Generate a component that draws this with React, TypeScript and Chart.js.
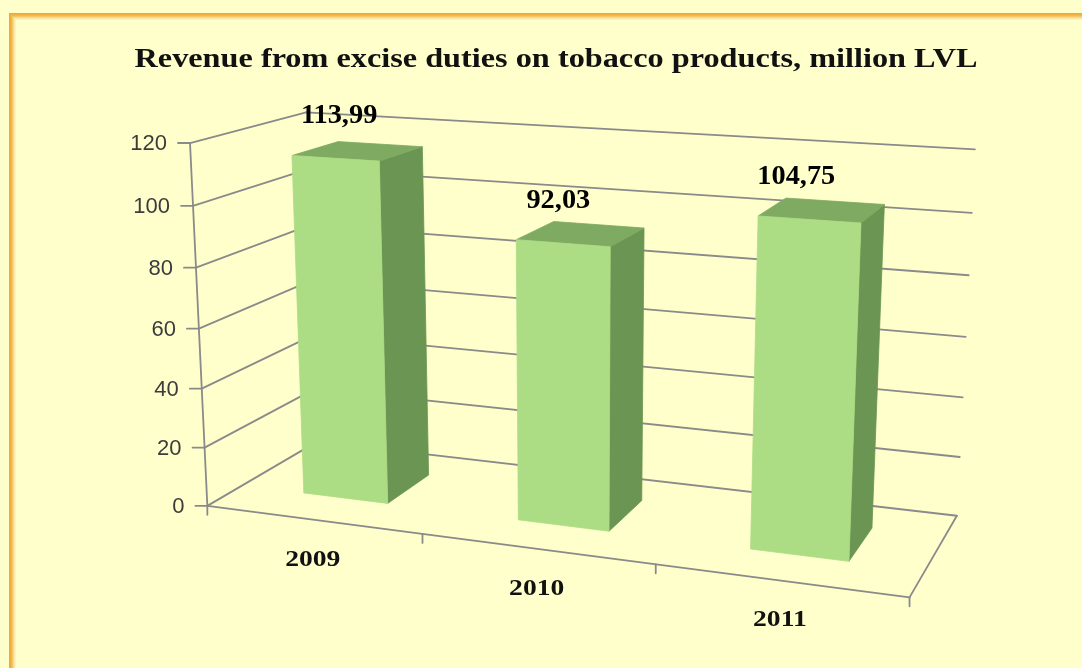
import React, { useEffect, useRef } from 'react';
import { Chart, registerables, BarController, BarElement } from 'chart.js';

Chart.register(...registerables);

// ---------------- data ----------------
const categories = ['2009', '2010', '2011'];
const revenue = [113.99, 92.03, 104.75];
const yTicks = [0, 20, 40, 60, 80, 100, 120];
const chartTitle = 'Revenue from excise duties on tobacco products, million LVL';

// ---------------- style / 3D frame ----------------
const W = 1082;
const H = 668;
const BG = '#FFFFCC';
const GRID = '#8a8a8a';
const FRONT = '#acdc84';
const TOP = '#7eaa61';
const SIDE = '#6b9552';
const BAR_FRONT_DEPTH = 0.3;
const BAR_BACK_DEPTH = 0.72;

// calibration of the perspective box: (u, v, w) -> screen (x, y)
// u: along categories 0..1, v: value fraction 0..1, w: depth 0 (front) .. 1 (back)
const CALIB: [number, number, number, number, number][] = [
  [0, 0, 0, 208, 507],
  [0, 1, 0, 190, 143],
  [0, 0.5, 0, 199, 328],
  [0, 0, 1, 317, 442],
  [0, 1, 1, 306, 112],
  [1, 0, 1, 957, 515],
  [1, 1, 1, 975, 150],
  [1, 0, 0, 910, 598],
  [1 / 3, 0, 0, 422, 533],
  [2 / 3, 0, 0, 655, 564],
];

function solveCamera(pts: [number, number, number, number, number][]) {
  const n = 11;
  const M: number[][] = Array.from({ length: n }, () => new Array(n + 1).fill(0));
  const addRow = (row: number[], rhs: number) => {
    for (let i = 0; i < n; i++) {
      for (let j = 0; j < n; j++) M[i][j] += row[i] * row[j];
      M[i][n] += row[i] * rhs;
    }
  };
  for (const [u, v, w, x, y] of pts) {
    addRow([u, v, w, 1, 0, 0, 0, 0, -x * u, -x * v, -x * w], x);
    addRow([0, 0, 0, 0, u, v, w, 1, -y * u, -y * v, -y * w], y);
  }
  for (let c = 0; c < n; c++) {
    let p = c;
    for (let r = c + 1; r < n; r++) if (Math.abs(M[r][c]) > Math.abs(M[p][c])) p = r;
    const t = M[c]; M[c] = M[p]; M[p] = t;
    for (let r = 0; r < n; r++) {
      if (r === c) continue;
      const f = M[r][c] / M[c][c];
      for (let k = c; k <= n; k++) M[r][k] -= f * M[c][k];
    }
  }
  return M.map((row, i) => row[n] / row[i]);
}

const CAM = solveCamera(CALIB);
function P(u: number, v: number, w: number): [number, number] {
  const a = CAM;
  const d = a[8] * u + a[9] * v + a[10] * w + 1;
  return [
    (a[0] * u + a[1] * v + a[2] * w + a[3]) / d,
    (a[4] * u + a[5] * v + a[6] * w + a[7]) / d,
  ];
}

let AREA = { left: 0, top: 0, right: W, bottom: H, width: W, height: H };

function poly(ctx: CanvasRenderingContext2D, pts: [number, number][], color: string) {
  ctx.beginPath();
  ctx.moveTo(pts[0][0], pts[0][1]);
  for (let i = 1; i < pts.length; i++) ctx.lineTo(pts[i][0], pts[i][1]);
  ctx.closePath();
  ctx.fillStyle = color;
  ctx.fill();
  ctx.strokeStyle = color;
  ctx.lineWidth = 0.8;
  ctx.stroke();
}

function line(ctx: CanvasRenderingContext2D, a: [number, number], b: [number, number]) {
  ctx.beginPath();
  ctx.moveTo(a[0], a[1]);
  ctx.lineTo(b[0], b[1]);
  ctx.stroke();
}

function stretchText(
  ctx: CanvasRenderingContext2D,
  text: string,
  x: number,
  y: number,
  font: string,
  sx: number,
  align: 'left' | 'center' | 'right',
  baseline: CanvasTextBaseline,
  color: string
) {
  ctx.save();
  ctx.font = font;
  ctx.fillStyle = color;
  ctx.textBaseline = baseline;
  ctx.textAlign = 'left';
  const w = ctx.measureText(text).width * sx;
  const left = align === 'center' ? x - w / 2 : align === 'right' ? x - w : x;
  ctx.translate(left, y);
  ctx.scale(sx, 1);
  ctx.fillText(text, 0, 0);
  ctx.restore();
}

// --------- custom 3D bar element drawn from the library's own bar geometry ---------
class Bar3DElement extends BarElement {
  static id = 'bar3d';
  draw(ctx: CanvasRenderingContext2D) {
    const { x, y, base, width } = (this as any).getProps(['x', 'y', 'base', 'width'], true);
    const opts = (this as any).options;
    const u0 = (x - width / 2 - AREA.left) / AREA.width;
    const u1 = (x + width / 2 - AREA.left) / AREA.width;
    const vt = (AREA.bottom - y) / AREA.height;
    const vb = (AREA.bottom - base) / AREA.height;
    const w0 = BAR_FRONT_DEPTH;
    const w1 = BAR_BACK_DEPTH;
    ctx.save();
    poly(ctx, [P(u1, vb, w0), P(u1, vb, w1), P(u1, vt, w1), P(u1, vt, w0)], SIDE);
    poly(ctx, [P(u0, vt, w0), P(u1, vt, w0), P(u1, vt, w1), P(u0, vt, w1)], TOP);
    poly(ctx, [P(u0, vb, w0), P(u1, vb, w0), P(u1, vt, w0), P(u0, vt, w0)], opts.backgroundColor);
    ctx.restore();
  }
}

class Bar3DController extends BarController {
  static id = 'bar3d';
  static defaults = { ...(BarController as any).defaults, dataElementType: 'bar3d' };
}

Chart.register(Bar3DElement as any, Bar3DController as any);

const frame3d = {
  id: 'frame3d',
  beforeDraw(chart: any) {
    const ctx: CanvasRenderingContext2D = chart.ctx;
    const ca = chart.chartArea;
    AREA = { left: ca.left, top: ca.top, right: ca.right, bottom: ca.bottom, width: ca.right - ca.left, height: ca.bottom - ca.top };
    ctx.save();
    ctx.fillStyle = BG;
    ctx.fillRect(0, 0, W, H);
    const band = ['#c2b187', '#f0b040', '#f3b94e', '#f6c766', '#f9d889', '#fce8ad', '#fef4c6'];
    band.forEach((c, i) => {
      ctx.fillStyle = c;
      ctx.fillRect(9 + i, 13 + i, 1, H);
      ctx.fillRect(9 + i, 13 + i, W, 1);
    });

    const ys = chart.scales.y;
    const vOf = (val: number) => (AREA.bottom - ys.getPixelForValue(val)) / AREA.height;

    ctx.strokeStyle = GRID;
    ctx.lineWidth = 1.8;
    ctx.lineCap = 'round';
    // left wall and back wall grid lines
    for (const t of yTicks) {
      const v = vOf(t);
      line(ctx, P(0, v, 0), P(0, v, 1));
      line(ctx, P(0, v, 1), P(1, v, 1));
    }
    // floor edges
    line(ctx, P(0, 0, 0), P(1, 0, 0));
    line(ctx, P(1, 0, 0), P(1, 0, 1));
    // value axis
    line(ctx, P(0, 0, 0), P(0, 1, 0));
    // value ticks and labels
    for (const t of yTicks) {
      const p = P(0, vOf(t), 0);
      line(ctx, [p[0] - 12, p[1]], p);
      stretchText(ctx, String(t), p[0] - 23, p[1] + 1, '22px "Liberation Sans"', 1, 'right', 'middle', '#3c3c3c');
    }
    // category ticks
    const xs = chart.scales.x;
    const n = categories.length;
    for (let i = 0; i <= n; i++) {
      const u = i / n;
      const p = P(u, 0, 0);
      line(ctx, p, [p[0], p[1] + 9]);
    }
    // category labels
    categories.forEach((c, i) => {
      const u = (xs.getPixelForValue(i) - AREA.left) / AREA.width;
      const p = P(u, 0, 0);
      stretchText(ctx, c, p[0], p[1] + 40, 'bold 23px "Liberation Serif"', 1.2, 'center', 'middle', '#111');
    });
    ctx.restore();
  },
  afterDatasetsDraw(chart: any) {
    const ctx: CanvasRenderingContext2D = chart.ctx;
    const meta = chart.getDatasetMeta(0);
    meta.data.forEach((el: any, i: number) => {
      const u = (el.x - AREA.left) / AREA.width;
      const v = (AREA.bottom - el.y) / AREA.height;
      const p = P(u, v, BAR_FRONT_DEPTH);
      const txt = revenue[i].toFixed(2).replace('.', ',');
      const dx = 8 - 25 * u;
      stretchText(ctx, txt, p[0] + dx, p[1] - 35, 'bold 27px "Liberation Serif"', 1.05, 'center', 'alphabetic', '#000');
    });
  },
  afterDraw(chart: any) {
    const ctx: CanvasRenderingContext2D = chart.ctx;
    ctx.save();
    ctx.font = 'bold 28px "Liberation Serif"';
    const natural = ctx.measureText(chartTitle).width;
    ctx.restore();
    stretchText(ctx, chartTitle, 556, 67, 'bold 28px "Liberation Serif"', 843 / natural, 'center', 'alphabetic', '#111');
  },
};

export default function App() {
  const ref = useRef<HTMLCanvasElement>(null);
  useEffect(() => {
    if (!ref.current) return;
    const chart = new Chart(ref.current, {
      type: 'bar3d' as any,
      data: {
        labels: categories,
        datasets: [
          {
            label: chartTitle,
            data: revenue,
            backgroundColor: FRONT,
            categoryPercentage: 1,
            barPercentage: 0.4,
            clip: false as any,
          } as any,
        ],
      },
      options: {
        animation: false,
        responsive: false,
        layout: { padding: 0 },
        plugins: {
          legend: { display: false },
          title: { display: false },
          tooltip: { enabled: false },
        },
        scales: {
          x: { type: 'category', display: false, offset: true },
          y: { type: 'linear', display: false, min: 0, max: 120, ticks: { stepSize: 20 } },
        },
      } as any,
      plugins: [frame3d],
    });
    return () => chart.destroy();
  }, []);
  return (
    <div style={{ position: 'fixed', left: 0, top: 0, width: W, height: H, background: BG }}>
      <canvas ref={ref} width={W} height={H} style={{ display: 'block' }} />
    </div>
  );
}
